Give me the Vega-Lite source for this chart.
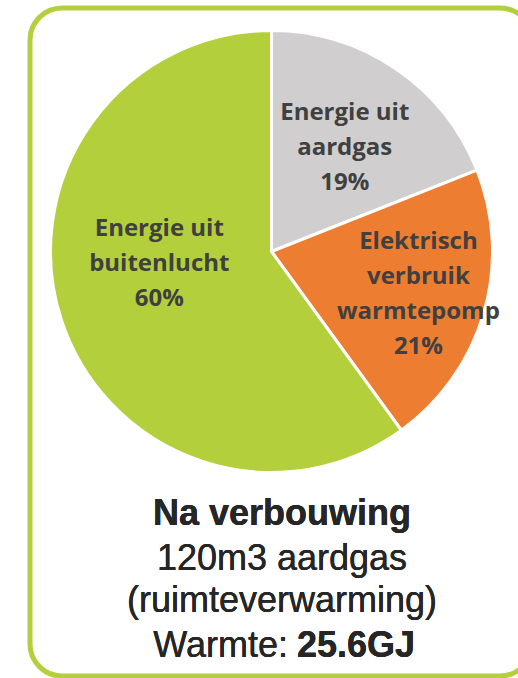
{
  "$schema": "https://vega.github.io/schema/vega-lite/v6.json",
  "autosize": "none",
  "padding": {"left": 30, "top": 8, "right": 0, "bottom": 2},
  "width": 502,
  "height": 668,
  "background": "white",
  "view": {"stroke": "#b3cf3b", "strokeWidth": 5, "cornerRadius": 32, "fill": "white"},
  "data": {
    "values": [
      {"key": "gas", "pct": 19, "ord": 1, "label": "Energie uit\naardgas\n19%"},
      {"key": "elek", "pct": 21, "ord": 2, "label": "Elektrisch\nverbruik\nwarmtepomp\n21%"},
      {"key": "lucht", "pct": 60, "ord": 3, "label": "Energie uit\nbuitenlucht\n60%"}
    ]
  },
  "encoding": {
    "theta": {"field": "pct", "type": "quantitative", "stack": true},
    "order": {"field": "ord", "type": "quantitative"}
  },
  "layer": [
    {
      "mark": {"type": "arc", "x": 241.5, "y": 243.5, "outerRadius": 221, "stroke": "white", "strokeWidth": 3},
      "encoding": {
        "color": {"field": "key", "type": "nominal", "legend": null,
          "scale": {"domain": ["gas", "elek", "lucht"], "range": ["#d0cece", "#ed7d31", "#b3cf3b"]}}
      }
    },
    {
      "mark": {"type": "text", "x": 241.5, "y": 243.5, "radius": 125, "dy": -35, "dx": 3, "font": "Open Sans", "fontWeight": "bold", "fontSize": 24, "lineHeight": 35, "lineBreak": "\n", "align": "center", "baseline": "middle", "color": "#404040"},
      "encoding": {
        "text": {"condition": {"test": "datum.key === 'gas'", "field": "label"}, "value": ""}
      }
    },
    {
      "mark": {"type": "text", "x": 241.5, "y": 243.5, "radius": 153, "dy": -52, "font": "Open Sans", "fontWeight": "bold", "fontSize": 24, "lineHeight": 35, "lineBreak": "\n", "align": "center", "baseline": "middle", "color": "#404040"},
      "encoding": {
        "text": {"condition": {"test": "datum.key === 'elek'", "field": "label"}, "value": ""}
      }
    },
    {
      "mark": {"type": "text", "x": 241.5, "y": 243.5, "radius": 118, "dy": -59, "dx": 0, "font": "Open Sans", "fontWeight": "bold", "fontSize": 24, "lineHeight": 35, "lineBreak": "\n", "align": "center", "baseline": "middle", "color": "#404040"},
      "encoding": {
        "text": {"condition": {"test": "datum.key === 'lucht'", "field": "label"}, "value": ""}
      }
    },
    {
      "mark": {"type": "text", "x": 252, "y": 517, "text": "Na verbouwing", "font": "Liberation Sans", "fontWeight": "bold", "fontSize": 36, "align": "center", "baseline": "alphabetic", "color": "#262626"},
      "encoding": {}
    },
    {
      "mark": {"type": "text", "x": 252, "y": 562, "text": "120m3 aardgas", "font": "Liberation Sans", "fontSize": 36, "align": "center", "baseline": "alphabetic", "color": "#262626"},
      "encoding": {}
    },
    {
      "mark": {"type": "text", "x": 252, "y": 604, "text": "(ruimteverwarming)", "font": "Liberation Sans", "fontSize": 36, "align": "center", "baseline": "alphabetic", "color": "#262626"},
      "encoding": {}
    },
    {
      "mark": {"type": "text", "x": 258, "y": 649, "text": "Warmte:", "font": "Liberation Sans", "fontSize": 36, "align": "right", "baseline": "alphabetic", "color": "#262626"},
      "encoding": {}
    },
    {
      "mark": {"type": "text", "x": 267, "y": 649, "text": "25.6GJ", "font": "Liberation Sans", "fontWeight": "bold", "fontSize": 36, "align": "left", "baseline": "alphabetic", "color": "#262626"},
      "encoding": {}
    }
  ]
}
